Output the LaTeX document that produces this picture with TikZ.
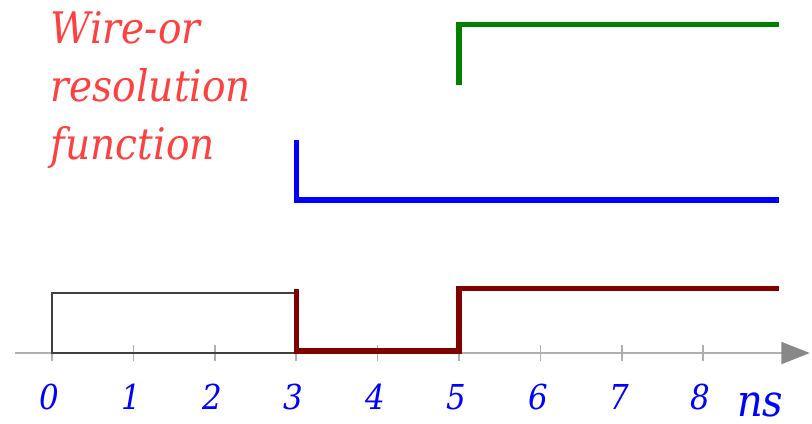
\documentclass[tikz,border=0pt]{standalone}
\usepackage{fontspec}
\setmainfont{DejaVu Serif Condensed}
\usepackage{tikz}
\usetikzlibrary{arrows.meta}
\usepackage{xcolor}
\definecolor{wirered}{RGB}{255,64,64}
\definecolor{wiremaroon}{RGB}{128,0,0}
\definecolor{wiregreen}{RGB}{0,128,0}
\definecolor{wireblue}{RGB}{0,0,255}
\definecolor{axisgray}{RGB}{175,175,175}
\definecolor{tipgray}{RGB}{136,136,136}

\begin{document}
\begin{tikzpicture}
    \useasboundingbox (-0.639,-0.86) rectangle (9.337,4.337);
    \draw[axisgray,line width=0.7pt,-{Triangle[length=0.35cm,width=0.27cm,color=tipgray,fill=tipgray]}] (-0.455,0) -- (9.31,0);
    \foreach \x in {0,...,8} {
      \draw[axisgray,line width=0.6pt] (\x,-0.1) -- (\x,0.1);
      \node[font=\itshape\fontsize{12}{14}\selectfont,text=wireblue,anchor=base] (tick\x) at ({\x-0.03},-0.69) {\x};
    }
    \node[font=\itshape\fontsize{15.5}{18}\selectfont,text=wireblue,anchor=base,inner sep=1pt] (unit) at (8.7,-0.78) {ns};
    \draw[black!75,line width=0.45pt] (0,0) rectangle (3,0.737);
    \draw[wiremaroon,line width=1.8pt] (3,0.79) -- (3,0.025) -- (5,0.025) -- (5,0.79) -- (8.93,0.79);
    \draw[wireblue,line width=1.8pt] (3,2.62) -- (3,1.88) -- (8.93,1.88);
    \draw[wiregreen,line width=1.8pt] (5,3.29) -- (5,4.04) -- (8.93,4.04);
    \node[font=\itshape\fontsize{15.2}{20.2}\selectfont,text=wirered,align=left,anchor=north west,inner sep=0pt] (title) at (-0.02,4.2) {Wire-or\\resolution\\function};
  \end{tikzpicture}
\end{document}
